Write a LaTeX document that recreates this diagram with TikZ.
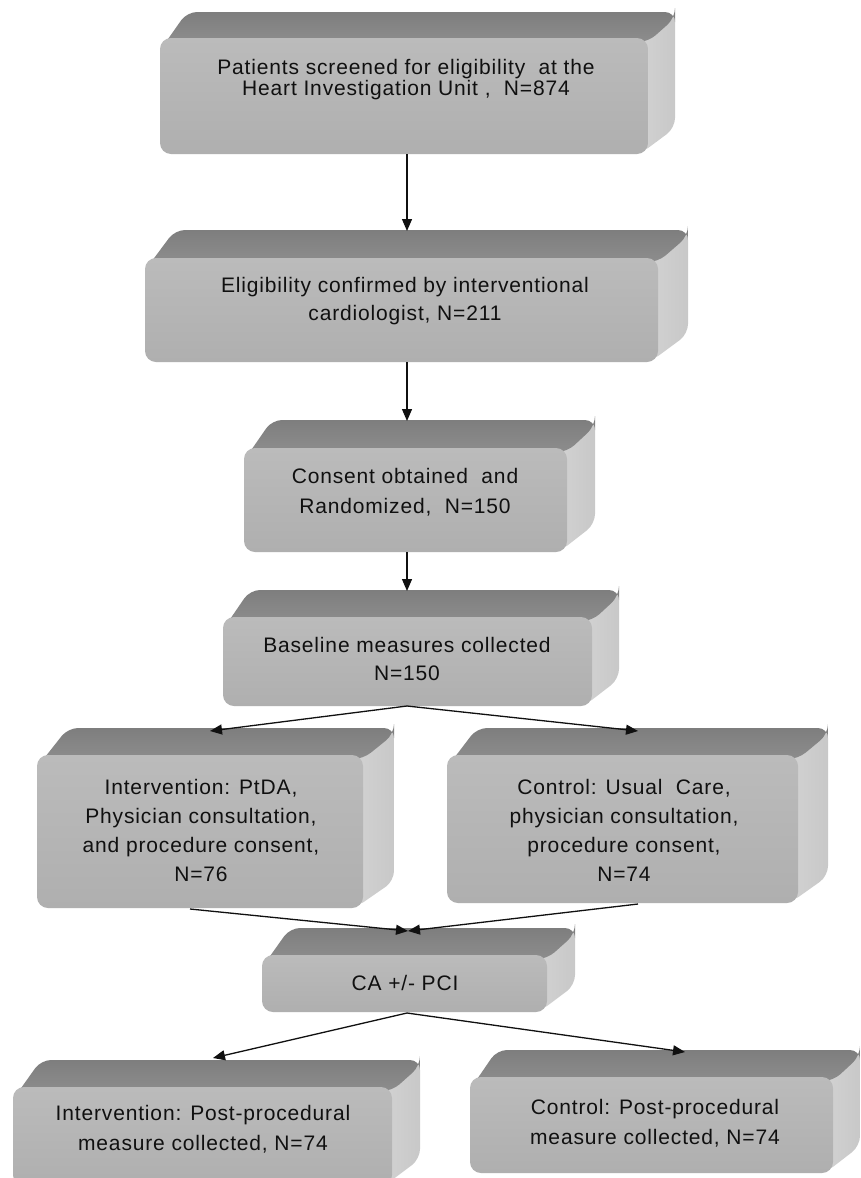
\documentclass[tikz,border=0pt]{standalone}
\usepackage{fontspec}
\newfontfamily\boxfont[LetterSpace=4]{Liberation Sans}
\usetikzlibrary{arrows.meta}
\definecolor{topA}{HTML}{7E7E7E}
\definecolor{topB}{HTML}{909090}
\definecolor{sideA}{HTML}{D2D2D2}
\definecolor{sideM}{HTML}{EAEAEA}
\definecolor{sideB}{HTML}{C8C8C8}
\definecolor{frontA}{HTML}{BBBBBB}
\definecolor{frontB}{HTML}{AFAFAF}
\definecolor{ink}{HTML}{101010}
\tikzset{
  topface/.style={top color=topA, bottom color=topB, rounded corners=10pt},
  sideface/.style={left color=sideA, middle color=sideM, right color=sideB, rounded corners=10pt},
  frontface/.style={rectangle, rounded corners=11pt, top color=frontA, bottom color=frontB, inner sep=0pt, draw=none},
  txt/.style={align=center, inner sep=0pt, text=ink},
  arr/.style={draw=ink, line width=1.3pt, -{Triangle[length=12pt,width=10pt]}},
}
% #1 name, #2 x1, #3 y1, #4 x2, #5 y2, #6 dx, #7 dy
\newcommand\pbox[7]{%
  \path[sideface] (#4-8,#3) -- (#4+#6,#3-#7) -- (#4+#6,#5-#7) -- (#4-8,#5) -- cycle;
  \path[topface] (#2+1,#3+11) -- (#2+#6,#3-#7) -- (#4+#6,#3-#7) -- (#4+#6,#3-#7+6) -- (#4,#3+4) -- cycle;
  \node[frontface, minimum width={(#4-#2)*1pt}, minimum height={(#5-#3)*1pt}] (#1) at ({(#2+#4)/2},{(#3+#5)/2}) {};
}
\begin{document}
\begin{tikzpicture}[x=1pt,y=-1pt]
\clip (0,0) rectangle (860,1178);
\fill[white] (0,0) rectangle (860,1178);

\pbox{b1}{160}{38}{648}{154}{27}{26}
\pbox{b2}{145}{258}{658}{362}{30}{28}
\pbox{b3}{244}{448}{567}{552}{28}{28}
\pbox{b4}{223}{617}{592}{706}{27}{27}
\pbox{b5}{37}{755}{363}{908}{31}{27}
\pbox{b6}{447}{755}{798}{903}{30}{27}
\pbox{b7}{262}{955}{547}{1012}{28}{27}
\pbox{b8}{13}{1087}{392}{1186}{28}{27}
\pbox{b9}{470}{1077}{833}{1173}{27}{27}

\node[txt, font=\boxfont\fontsize{21}{21}\selectfont] (t1) at (406,80) {Patients screened for eligibility\ \ at the\\Heart Investigation Unit ,\ \ N=874};
\node[txt, font=\boxfont\fontsize{21}{28}\selectfont] (t2) at (405,301) {Eligibility confirmed by interventional\\cardiologist, N=211};
\node[txt, font=\boxfont\fontsize{21}{30}\selectfont] (t3) at (405,492) {Consent obtained\ \ and\\Randomized,\ \ N=150};
\node[txt, font=\boxfont\fontsize{21}{28}\selectfont] (t4) at (407,659) {Baseline measures collected\\N=150};
\node[txt, font=\boxfont\fontsize{21}{29}\selectfont] (t5) at (201,830) {Intervention: PtDA,\\Physician consultation,\\and procedure consent,\\N=76};
\node[txt, font=\boxfont\fontsize{21}{29}\selectfont] (t6) at (624,830) {Control: Usual\ \ Care,\\physician consultation,\\procedure consent,\\N=74};
\node[txt, font=\boxfont\fontsize{21}{24}\selectfont] (t7) at (405,983) {CA +/- PCI};
\node[txt, font=\boxfont\fontsize{21}{30}\selectfont] (t8) at (203,1129) {Intervention: Post-procedural\\measure collected, N=74};
\node[txt, font=\boxfont\fontsize{21}{30}\selectfont] (t9) at (655,1123) {Control: Post-procedural\\measure collected, N=74};

\coordinate (b2in) at (407,231);
\coordinate (b3in) at (407,421);
\coordinate (b4in) at (407,591);
\coordinate (b5in) at (210,731);
\coordinate (b6in) at (638,731);
\coordinate (b7in) at (408,931);
\coordinate (b8in) at (213,1058);
\coordinate (b9in) at (685,1052);
\coordinate (b4out) at (407,706);
\coordinate (b5out) at (190,909);
\coordinate (b6out) at (638,904);
\coordinate (b7out) at (407,1013);

\draw[arr] (b1.south -| b2in) -- (b2in);
\draw[arr] (b2.south -| b3in) -- (b3in);
\draw[arr] (b3.south -| b4in) -- (b4in);
\draw[arr] (b4out) -- (b5in);
\draw[arr] (b4out) -- (b6in);
\draw[arr] (b5out) -- (b7in);
\draw[arr] (b6out) -- (b7in);
\draw[arr] (b7out) -- (b8in);
\draw[arr] (b7out) -- (b9in);
\end{tikzpicture}
\end{document}
